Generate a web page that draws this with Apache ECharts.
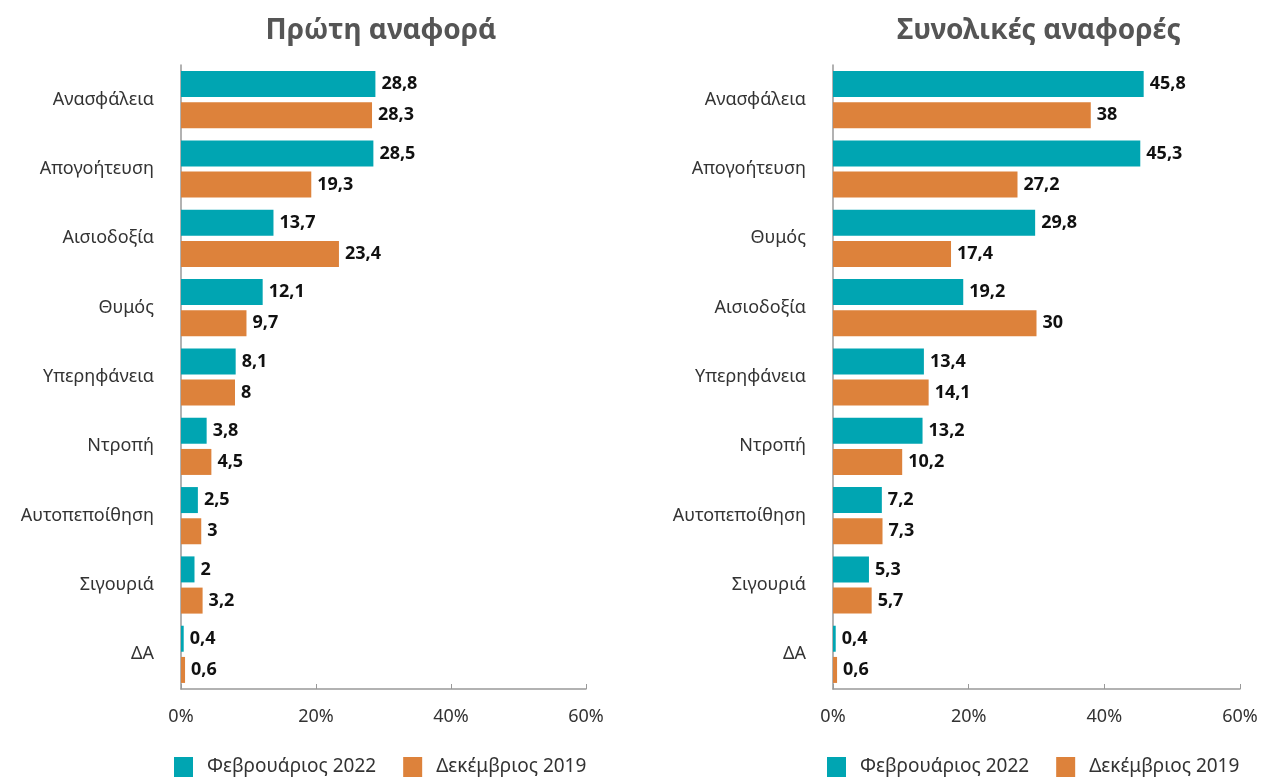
<!DOCTYPE html>
<html><head><meta charset="utf-8">
<script src="https://cdn.jsdelivr.net/npm/echarts@6/dist/echarts.min.js"></script>
<style>html,body{margin:0;padding:0;background:#fff}#c{width:1265px;height:782px}</style>
</head><body><div id="c"></div>
<script>
const seriesNames = ['Φεβρουάριος 2022', 'Δεκέμβριος 2019'];
const titles = ['Πρώτη αναφορά', 'Συνολικές αναφορές'];
const xTicks = [0, 20, 40, 60];

const catsFirst = ['Ανασφάλεια','Απογοήτευση','Αισιοδοξία','Θυμός','Υπερηφάνεια','Ντροπή','Αυτοπεποίθηση','Σιγουριά','ΔΑ'];
const firstFeb2022 = [28.8, 28.5, 13.7, 12.1, 8.1, 3.8, 2.5, 2, 0.4];
const firstDec2019 = [28.3, 19.3, 23.4, 9.7, 8, 4.5, 3, 3.2, 0.6];

const catsTotal = ['Ανασφάλεια','Απογοήτευση','Θυμός','Αισιοδοξία','Υπερηφάνεια','Ντροπή','Αυτοπεποίθηση','Σιγουριά','ΔΑ'];
const totalFeb2022 = [45.8, 45.3, 29.8, 19.2, 13.4, 13.2, 7.2, 5.3, 0.4];
const totalDec2019 = [38, 27.2, 17.4, 30, 14.1, 10.2, 7.3, 5.7, 0.6];

const colors = ['#00A5B2', '#DD823B'];
const font = 'Noto Sans';

const grids = [
  {left: 181, right: 679, top: 65, bottom: 93},
  {left: 833, right: 25, top: 65, bottom: 93}
];

function xAxis(i){
  return {type:'value', gridIndex:i, min:xTicks[0], max:xTicks[xTicks.length-1], interval:20,
    axisLine:{show:true, lineStyle:{color:'#999', width:1.5}},
    axisTick:{show:true, inside:true, length:5, lineStyle:{color:'#999'}},
    splitLine:{show:false},
    axisLabel:{formatter:'{value}%', color:'#333', fontFamily:font, fontSize:18, margin:19}
  };
}
function yAxis(i, cats){
  return {type:'category', gridIndex:i, data:cats, inverse:true,
    axisLine:{show:true, lineStyle:{color:'#999', width:1.5}},
    axisTick:{show:false},
    axisLabel:{color:'#333', fontFamily:font, fontSize:18, margin:27}
  };
}
function fmt(p){ return String(p.value).replace('.', ','); }
function bar(name, data, i, color){
  return {name, type:'bar', xAxisIndex:i, yAxisIndex:i, data, barWidth:26, barGap:'20%',
    itemStyle:{color},
    label:{show:true, position:'right', distance:6, formatter:fmt, color:'#111', fontFamily:font, fontWeight:'bold', fontSize:18}
  };
}
const legendText = {color:'#333', fontFamily:font, fontSize:19, padding:[0,0,0,9]};

const chart = echarts.init(document.getElementById('c'));
chart.setOption({
  animation:false,
  title:[
    {text:titles[0], left:376, top:12, textAlign:'center', textStyle:{color:'#555', fontFamily:font, fontWeight:'bold', fontSize:28}},
    {text:titles[1], left:1034, top:12, textAlign:'center', textStyle:{color:'#555', fontFamily:font, fontWeight:'bold', fontSize:28}}
  ],
  legend:[
    {left:174, top:757, padding:0, itemWidth:19, itemHeight:20, itemGap:27, icon:'rect', data:seriesNames, textStyle:legendText},
    {left:827, top:757, padding:0, itemWidth:19, itemHeight:20, itemGap:27, icon:'rect', data:seriesNames, textStyle:legendText}
  ],
  grid:grids,
  xAxis:[xAxis(0), xAxis(1)],
  yAxis:[yAxis(0, catsFirst), yAxis(1, catsTotal)],
  series:[
    bar(seriesNames[0], firstFeb2022, 0, colors[0]),
    bar(seriesNames[1], firstDec2019, 0, colors[1]),
    bar(seriesNames[0], totalFeb2022, 1, colors[0]),
    bar(seriesNames[1], totalDec2019, 1, colors[1])
  ]
});
</script></body></html>
